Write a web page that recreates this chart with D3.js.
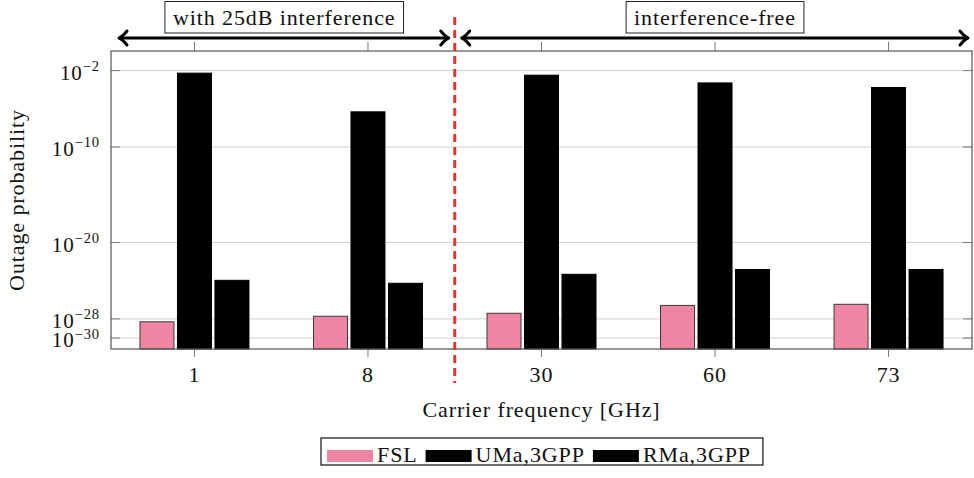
<!DOCTYPE html>
<html>
<head>
<meta charset="utf-8">
<script src="https://cdn.jsdelivr.net/npm/d3@7/dist/d3.min.js"></script>
<style>
  html, body { margin: 0; padding: 0; background: #fff; }
</style>
</head>
<body>
<svg id="chart" width="974" height="478"></svg>
<script>
// Carrier frequencies (GHz) shown as categories
const categories = ["1", "8", "30", "60", "73"];
const seriesNames = ["FSL", "UMa,3GPP", "RMa,3GPP"];
const seriesColors = ["#ef84a3", "#000000", "#000000"];

// Outage probability per path-loss model
const fslValues = [5.0e-29, 1.9e-28, 3.9e-28, 2.6e-27, 3.4e-27];
const umaValues = [5.4e-3, 4.8e-7, 3.3e-3, 5.1e-4, 1.7e-4];
const rmaValues = [1.1e-24, 5.4e-25, 4.7e-24, 1.5e-23, 1.5e-23];

// Y axis tick values and their exponent labels
const yTickValues = [1e-2, 1e-10, 1e-20, 1e-28, 1e-30];
const yTickExponents = ["\u22122", "\u221210", "\u221220", "\u221228", "\u221230"];

// Scenario annotations
const regionLabels = ["with 25dB interference", "interference-free"];

const series = [fslValues, umaValues, rmaValues];
const FONT = '"Liberation Serif", "Times New Roman", serif';

const svg = d3.select("#chart");
const plot = { left: 111, right: 972, top: 51, bottom: 349 };

function label(sel, size) {
  return sel.style("font-family", FONT)
    .attr("font-size", size)
    .attr("letter-spacing", 0.9)
    .attr("fill", "#111");
}

const x = d3.scalePoint()
  .domain(categories)
  .range([plot.left, plot.right])
  .padding(0.481);

const y = d3.scaleLog()
  .domain([Math.pow(10, -31.15), Math.pow(10, 0.05)])
  .range([plot.bottom, plot.top]);

const barWidth = 34;
const barStep = 37.5;

// Grid lines
svg.append("g")
  .selectAll("line")
  .data(yTickValues)
  .join("line")
  .attr("x1", plot.left).attr("x2", plot.right)
  .attr("y1", d => y(d)).attr("y2", d => y(d))
  .attr("stroke", "#d0d0d0").attr("stroke-width", 1);

// Bars, one group per series
svg.append("g")
  .selectAll("g")
  .data(series)
  .join("g")
  .each(function(vals, si) {
    d3.select(this).selectAll("rect")
      .data(vals)
      .join("rect")
      .attr("x", (d, i) => x(categories[i]) + (si - 1) * barStep - barWidth / 2)
      .attr("y", d => y(d))
      .attr("width", barWidth)
      .attr("height", d => plot.bottom - y(d))
      .attr("fill", seriesColors[si])
      .attr("stroke", si === 0 ? "#3a3a3a" : "#000")
      .attr("stroke-width", 1);
  });

// Y ticks inside the frame on both sides, x ticks outside top and bottom
const tickG = svg.append("g").attr("stroke", "#7a7a7a").attr("stroke-width", 1);
yTickValues.forEach(v => {
  tickG.append("line").attr("x1", plot.left).attr("x2", plot.left + 9)
    .attr("y1", y(v)).attr("y2", y(v));
  tickG.append("line").attr("x1", plot.right - 9).attr("x2", plot.right)
    .attr("y1", y(v)).attr("y2", y(v));
});
categories.forEach(c => {
  tickG.append("line").attr("x1", x(c)).attr("x2", x(c))
    .attr("y1", plot.bottom).attr("y2", plot.bottom + 8);
  tickG.append("line").attr("x1", x(c)).attr("x2", x(c))
    .attr("y1", plot.top).attr("y2", plot.top - 9);
});

// Frame
svg.append("rect")
  .attr("x", plot.left).attr("y", plot.top)
  .attr("width", plot.right - plot.left).attr("height", plot.bottom - plot.top)
  .attr("fill", "none").attr("stroke", "#555").attr("stroke-width", 1.2);

// Y tick labels with superscript exponents
const yLab = svg.append("g");
yTickValues.forEach((v, i) => {
  const t = label(yLab.append("text"), 21)
    .attr("x", 100).attr("y", y(v) + 9)
    .attr("text-anchor", "end");
  t.append("tspan").text("10");
  t.append("tspan").attr("font-size", 14.5).attr("dy", -8.5).text(yTickExponents[i]);
});

// X tick labels
categories.forEach(c => {
  label(svg.append("text"), 22)
    .attr("x", x(c)).attr("y", 382)
    .attr("text-anchor", "middle")
    .text(c);
});

// Axis titles
label(svg.append("text"), 22)
  .attr("x", (plot.left + plot.right) / 2).attr("y", 417)
  .attr("text-anchor", "middle")
  .text("Carrier frequency [GHz]");

label(svg.append("text"), 22)
  .attr("transform", `translate(24,${(plot.top + plot.bottom) / 2}) rotate(-90)`)
  .attr("text-anchor", "middle")
  .text("Outage probability");

// Dashed divider between the two scenarios
const divX = (x("8") + x("30")) / 2;
svg.append("line")
  .attr("x1", divX).attr("x2", divX)
  .attr("y1", 17).attr("y2", 383)
  .attr("stroke", "#e0382c").attr("stroke-width", 3)
  .attr("stroke-dasharray", "8,5");

// Double-headed arrows spanning each scenario
const arrowY = 38;
function arrow(x1, x2) {
  const g = svg.append("g").attr("stroke", "#000").attr("stroke-width", 3)
    .attr("fill", "none").attr("stroke-linecap", "round").attr("stroke-linejoin", "round");
  g.append("line").attr("x1", x1 + 1).attr("x2", x2 - 1).attr("y1", arrowY).attr("y2", arrowY);
  g.append("path").attr("d", `M${x1 + 8},${arrowY - 7} Q${x1 + 3},${arrowY - 1} ${x1},${arrowY} Q${x1 + 3},${arrowY + 1} ${x1 + 8},${arrowY + 7}`);
  g.append("path").attr("d", `M${x2 - 8},${arrowY - 7} Q${x2 - 3},${arrowY - 1} ${x2},${arrowY} Q${x2 - 3},${arrowY + 1} ${x2 - 8},${arrowY + 7}`);
}
arrow(119, divX - 6);
arrow(divX + 7, 968);

// Scenario labels in boxes
const labelCenters = [(x("1") + x("8")) / 2 + 3, x("60")];
labelCenters.forEach((cx, i) => {
  const g = svg.append("g");
  const box = g.append("rect")
    .attr("fill", "#fff").attr("stroke", "#222").attr("stroke-width", 1);
  const t = label(g.append("text"), 22)
    .attr("x", cx).attr("y", 25)
    .attr("text-anchor", "middle")
    .text(regionLabels[i]);
  const w = t.node().getComputedTextLength();
  box.attr("x", cx - w / 2 - 8).attr("y", 1.5)
    .attr("width", w + 16).attr("height", 31.5);
});

// Legend
const legend = svg.append("g");
const legendBox = legend.append("rect")
  .attr("fill", "#fff").attr("stroke", "#111").attr("stroke-width", 1.2);
let lx = 327;
seriesNames.forEach((name, i) => {
  legend.append("rect")
    .attr("x", lx).attr("y", 450).attr("width", 46).attr("height", 12)
    .attr("fill", seriesColors[i]);
  const t = label(legend.append("text"), 22)
    .attr("x", lx + 50).attr("y", 462)
    .text(name);
  lx += 50 + t.node().getComputedTextLength() + 8;
});
legendBox.attr("x", 321).attr("y", 438).attr("width", lx - 321 + 4).attr("height", 27);
</script>
</body>
</html>
